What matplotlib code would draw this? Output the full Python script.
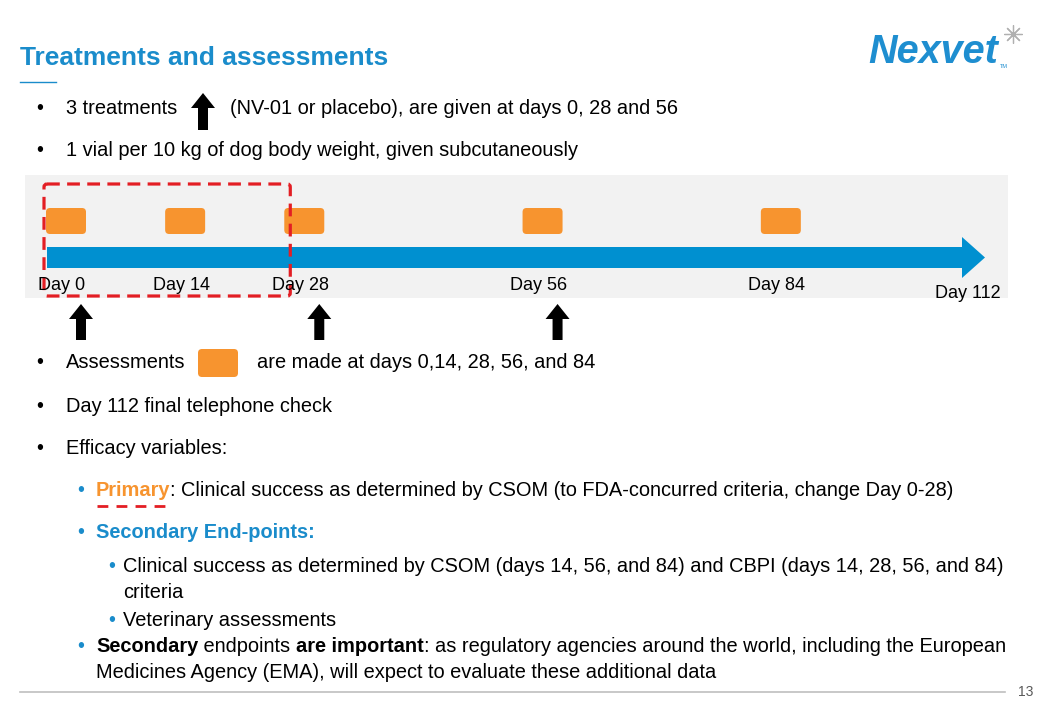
import matplotlib
matplotlib.use("Agg")
import matplotlib.pyplot as plt
from matplotlib.patches import Rectangle, FancyBboxPatch, FancyArrow

plt.rcParams["font.family"] = ["Liberation Sans", "DejaVu Sans"]

# --- slide content ---
title = "Treatments and assessments"
assess_days = [0, 14, 28, 56, 84]
treat_days = [0, 28, 56]
day_labels = ["Day 0", "Day 14", "Day 28", "Day 56", "Day 84"]
final_label = "Day 112"

line_treat_a = "3 treatments"
line_treat_b = "(NV-01 or placebo), are given at days 0, 28 and 56"
line_vial = "1 vial per 10 kg of dog body weight, given subcutaneously"
line_assess_a = "Assessments"
line_assess_b = "are made at days 0,14, 28, 56, and 84"
line_phone = "Day 112 final telephone check"
line_eff = "Efficacy variables:"
primary_parts = [("Primary", "orange", "bold"),
                 (": Clinical success as determined by CSOM (to FDA-concurred criteria, change Day 0-28)", "black", "normal")]
secondary_head = "Secondary End-points:"
sub_lines = ["Clinical success as determined by CSOM (days 14, 56, and 84) and CBPI (days 14, 28, 56, and 84)",
             "criteria"]
sub_vet = "Veterinary assessments"
important_parts = [("Secondary", "black", "bold"), (" endpoints ", "black", "normal"),
                   ("are important", "black", "bold"),
                   (": as regulatory agencies around the world, including the European", "black", "normal")]
important_cont = "Medicines Agency (EMA), will expect to evaluate these additional data"
page_no = "13"

BLUE = "#1A8CCB"
ARROW_BLUE = "#0090D0"
ORANGE = "#F7942F"
RED = "#E31E24"
GREY_BAND = "#F2F2F2"
BODY = 14.4

fig = plt.figure(figsize=(10.4, 7.2), dpi=100)
ax = fig.add_axes([0, 0, 1, 1])
ax.set_xlim(0, 1040)
ax.set_ylim(720, 0)
ax.axis("off")
renderer = fig.canvas.get_renderer()


def rich(x, y, parts, size=BODY):
    colors = {"orange": ORANGE, "black": "black", "blue": BLUE}
    for txt, col, wt in parts:
        t = ax.text(x, y, txt, fontsize=size, color=colors[col], weight=wt,
                    va="center", ha="left")
        x += t.get_window_extent(renderer=renderer).width
    return x


def up_arrow(axis, x, y_bottom, length, w, hw, hl):
    axis.add_patch(FancyArrow(x, y_bottom, 0, -length, width=w, head_width=hw,
                              head_length=hl, length_includes_head=True,
                              fc="black", ec="none"))


def bullet(x, y, text=None, tx=None, color="black", **kw):
    ax.text(x, y, "•", fontsize=BODY, color=color, va="center")
    if text is not None:
        ax.text(tx, y, text, fontsize=BODY, va="center", **kw)


# title + logo
ax.text(20, 58, title, fontsize=19, weight="bold", color=BLUE, va="center")
ax.plot([20, 56], [82, 82], color=BLUE, lw=1)
ax.text(868, 52, "Nexvet", fontsize=28.5, weight="bold", style="italic",
        color="#1E8ED0", va="center")
ax.text(1000, 67, "TM", fontsize=4, color="#1E8ED0", va="center")
ax.plot(1013, 34, marker=(8, 2, 0), ms=13, color="#B0B0B0", mew=0.9)

# top bullets
bullet(36, 109, line_treat_a, 66)
up_arrow(ax, 203, 130, 37, 10, 24, 15)
ax.text(230, 109, line_treat_b, fontsize=BODY, va="center")
bullet(36, 151, line_vial, 66)

# timeline band
ax.add_patch(Rectangle((25, 175), 983, 123, fc=GREY_BAND, ec="none"))
ax.add_patch(FancyArrow(47, 257.5, 938, 0, width=21, head_width=41, head_length=23,
                        length_includes_head=True, fc=ARROW_BLUE, ec="none"))

PX = 8.51   # pixels per day on the slide timeline
X0 = 66     # pixel position of day 0
tl = fig.add_axes([25 / 1040, (720 - 345) / 720, 983 / 1040, 170 / 720])
tl.set_xlim((25 - X0) / PX, (1008 - X0) / PX)
tl.set_ylim(345, 175)
tl.axis("off")

BW = 40 / PX
for d in assess_days:
    tl.add_patch(FancyBboxPatch((d - BW / 2, 208), BW, 26,
                                boxstyle=f"round,pad=0,rounding_size={4 / PX}",
                                mutation_aspect=PX, fc=ORANGE, ec="none"))
for d, lab in zip(assess_days, day_labels):
    tl.text(d - 4 / PX, 285, lab, fontsize=13, ha="center", va="center")
tl.text(0.992, 1 - (293 - 175) / 170, final_label, transform=tl.transAxes,
        fontsize=13, ha="right", va="center")
for d in treat_days:
    up_arrow(tl, d + 15 / PX, 340, 36, 10 / PX, 24 / PX, 15)

# red dashed frame around the first treatment period (day 0 to day 28)
left = assess_days[0] - BW / 2 - 2 / PX
right = treat_days[1] - 14 / PX
tl.add_patch(FancyBboxPatch((left, 184), right - left, 112,
                            boxstyle=f"round,pad=0,rounding_size={3 / PX}",
                            mutation_aspect=PX, fill=False, ec=RED, lw=2.3,
                            ls=(0, (4, 2.3))))

# lower bullets
bullet(36, 363, line_assess_a, 66)
ax.add_patch(FancyBboxPatch((198, 349), 40, 28, boxstyle="round,pad=0,rounding_size=4",
                            fc=ORANGE, ec="none"))
ax.text(257, 363, line_assess_b, fontsize=BODY, va="center")
bullet(36, 406, line_phone, 66)
bullet(36, 449, line_eff, 66)

bullet(77, 491, color=BLUE)
rich(96, 491, primary_parts)
ax.plot([97, 166], [506, 506], color=RED, lw=2, ls=(0, (3.9, 2.95)))

bullet(77, 533, color=BLUE)
ax.text(96, 533, secondary_head, fontsize=BODY, color=BLUE, weight="bold", va="center")

bullet(108, 567, color=BLUE)
ax.text(123, 567, sub_lines[0], fontsize=BODY, va="center")
ax.text(123, 593, sub_lines[1], fontsize=BODY, va="center")
bullet(108, 620, sub_vet, 123, color=BLUE)

bullet(77, 647, color=BLUE)
rich(96, 647, important_parts)
ax.text(96, 673, important_cont, fontsize=BODY, va="center")

# footer
ax.plot([20, 1005], [692, 692], color="#BFBFBF", lw=1.2)
ax.text(1018, 692, page_no, fontsize=10, color="#595959", va="center")

fig.savefig("out.png", dpi=100)
